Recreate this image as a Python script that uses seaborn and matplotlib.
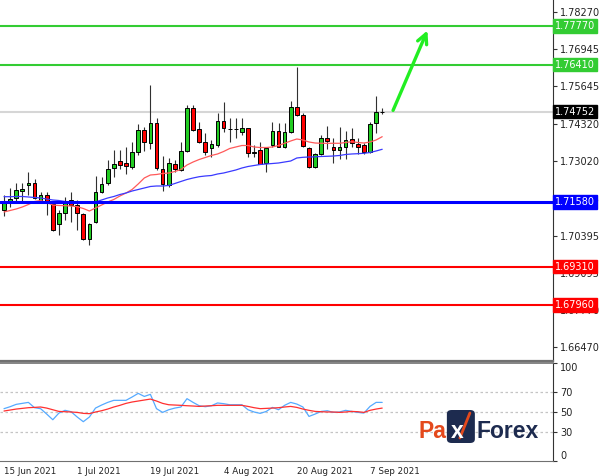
import numpy as np
import pandas as pd
import matplotlib
matplotlib.use("Agg")
import matplotlib.pyplot as plt
import seaborn as sns
from matplotlib.patches import FancyBboxPatch
from matplotlib.lines import Line2D

# daily candles (15 Jun - 9 Sep 2021)
opens = [1.71297, 1.71614, 1.71730, 1.71965, 1.72166, 1.72236, 1.71614, 1.71825, 1.71498, 1.70795,
         1.71202, 1.71649, 1.71473, 1.71157, 1.70267, 1.70886, 1.71920, 1.72257, 1.72785, 1.73020,
         1.72939, 1.72799, 1.73337, 1.74110, 1.73643, 1.74346, 1.72739, 1.72176, 1.72915, 1.72704,
         1.73372, 1.74894, 1.74146, 1.73699, 1.73467, 1.73583, 1.74437, 1.74135, 1.74135, 1.74051,
         1.74170, 1.73291, 1.73407, 1.72939, 1.73583, 1.74086, 1.73523, 1.74051, 1.74909, 1.74638,
         1.73467, 1.72820, 1.73256, 1.73818, 1.73502, 1.73407, 1.73523, 1.73794, 1.73618, 1.73583,
         1.73326, 1.74367, 1.74743]
highs = [1.71825, 1.72060, 1.72257, 1.72257, 1.72623, 1.72377, 1.71941, 1.71941, 1.71533, 1.71297,
         1.71765, 1.71941, 1.71649, 1.71202, 1.70830, 1.72493, 1.72468, 1.73056, 1.73407, 1.73407,
         1.73502, 1.73699, 1.74311, 1.74205, 1.75693, 1.74522, 1.73207, 1.73115, 1.73056, 1.73699,
         1.74989, 1.74989, 1.74381, 1.73994, 1.73759, 1.74719, 1.75084, 1.74522, 1.74522, 1.74522,
         1.74191, 1.73583, 1.73699, 1.73502, 1.74381, 1.74346, 1.74346, 1.75141, 1.76315, 1.74698,
         1.73523, 1.73312, 1.73935, 1.74251, 1.73818, 1.74205, 1.74086, 1.74170, 1.73818, 1.73643,
         1.74402, 1.75306, 1.74873]
lows = [1.71086, 1.71413, 1.71589, 1.71533, 1.71825, 1.71674, 1.71533, 1.71122, 1.70570, 1.70418,
        1.70946, 1.70886, 1.70594, 1.70243, 1.70067, 1.70830, 1.71885, 1.72176, 1.72447, 1.72750,
        1.72563, 1.72750, 1.73242, 1.73361, 1.73442, 1.72704, 1.71976, 1.72117, 1.72644, 1.72679,
        1.73347, 1.74075, 1.73643, 1.73231, 1.73172, 1.73523, 1.74051, 1.73699, 1.73818, 1.73935,
        1.73172, 1.73172, 1.72904, 1.72644, 1.73523, 1.73502, 1.73467, 1.73994, 1.74603, 1.73523,
        1.72764, 1.72764, 1.73231, 1.73432, 1.72939, 1.73080, 1.73080, 1.73502, 1.73267, 1.73267,
        1.73291, 1.73994, 1.74673]
closes = [1.71589, 1.71674, 1.72001, 1.72036, 1.72236, 1.71709, 1.71825, 1.71533, 1.70594, 1.71181,
          1.71589, 1.71473, 1.71181, 1.70267, 1.70795, 1.71941, 1.72201, 1.72739, 1.72904, 1.72880,
          1.72855, 1.73337, 1.74110, 1.73678, 1.74346, 1.72764, 1.72201, 1.72939, 1.72739, 1.73372,
          1.74894, 1.74110, 1.73699, 1.73347, 1.73608, 1.74437, 1.74170, 1.74135, 1.74135, 1.74170,
          1.73312, 1.73347, 1.72915, 1.73488, 1.74086, 1.73523, 1.74051, 1.74930, 1.74638, 1.73558,
          1.72820, 1.73267, 1.73818, 1.73724, 1.73407, 1.73523, 1.73759, 1.73643, 1.73502, 1.73326,
          1.74311, 1.74754, 1.74752]

# moving averages (red = fast, blue = slow)
ma_fast = [1.71227, 1.71280, 1.71333, 1.71403, 1.71491, 1.71596, 1.71631, 1.71561, 1.71473, 1.71456,
           1.71449, 1.71438, 1.71413, 1.71350, 1.71262, 1.71368, 1.71473, 1.71579, 1.71667, 1.71790,
           1.71895, 1.72018, 1.72212, 1.72423, 1.72528, 1.72546, 1.72581, 1.72598, 1.72651, 1.72721,
           1.72880, 1.72985, 1.73073, 1.73143, 1.73214, 1.73267, 1.73354, 1.73460, 1.73513, 1.73565,
           1.73565, 1.73513, 1.73495, 1.73495, 1.73513, 1.73565, 1.73643, 1.73724, 1.73794, 1.73759,
           1.73688, 1.73653, 1.73643, 1.73643, 1.73643, 1.73643, 1.73671, 1.73699, 1.73671, 1.73653,
           1.73688, 1.73759, 1.73875]
ma_slow = [1.71765, 1.71765, 1.71772, 1.71772, 1.71755, 1.71737, 1.71719, 1.71684, 1.71649, 1.71631,
           1.71596, 1.71579, 1.71561, 1.71561, 1.71544, 1.71579, 1.71649, 1.71719, 1.71772, 1.71842,
           1.71895, 1.71965, 1.72018, 1.72071, 1.72124, 1.72141, 1.72141, 1.72159, 1.72229, 1.72300,
           1.72370, 1.72423, 1.72468, 1.72493, 1.72510, 1.72563, 1.72598, 1.72651, 1.72704, 1.72774,
           1.72827, 1.72862, 1.72897, 1.72915, 1.72932, 1.72950, 1.72985, 1.73020, 1.73126, 1.73150,
           1.73161, 1.73168, 1.73179, 1.73186, 1.73196, 1.73214, 1.73249, 1.73267, 1.73277, 1.73291,
           1.73319, 1.73372, 1.73432]

# oscillator panel
osc_main = [53.4, 55.4, 57.8, 58.8, 59.8, 54.4, 53.4, 47.9, 42.1, 48.9,
            51.7, 50.3, 44.9, 40.1, 44.9, 54.0, 57.1, 59.8, 61.9, 61.9,
            61.9, 65.3, 69.0, 65.9, 68.0, 53.4, 49.6, 52.3, 54.0, 55.1,
            63.6, 59.8, 56.4, 55.4, 56.4, 59.2, 58.5, 57.4, 57.4, 57.4,
            52.3, 50.0, 48.6, 50.6, 54.7, 52.3, 56.8, 59.8, 58.1, 55.1,
            45.5, 47.9, 50.6, 51.3, 49.6, 50.0, 51.7, 50.6, 49.6, 48.9,
            55.7, 59.8, 59.8]
osc_signal = [51.0, 52.0, 53.0, 53.7, 54.4, 54.7, 55.1, 54.0, 52.3, 50.6,
              50.3, 50.0, 49.6, 48.6, 48.3, 50.0, 51.3, 53.0, 55.1, 56.8,
              58.8, 60.2, 61.2, 62.2, 63.2, 61.2, 58.8, 57.4, 57.1, 56.8,
              56.4, 56.1, 55.7, 56.1, 56.4, 56.8, 56.8, 56.8, 56.8, 56.8,
              55.7, 54.4, 53.4, 53.7, 54.0, 54.4, 55.1, 55.7, 54.7, 53.0,
              51.7, 50.6, 50.3, 50.0, 50.0, 49.6, 50.0, 50.6, 50.3, 49.6,
              51.7, 53.0, 54.0]

green_levels = [1.77770, 1.76410]
blue_levels = [1.71580]
red_levels = [1.69310, 1.67960]
last_price = 1.74752

price_ticks = [1.78270, 1.76945, 1.75645, 1.74320, 1.73020, 1.71695, 1.70395, 1.69095, 1.67770, 1.66470]
osc_ticks = [0, 30, 50, 70, 100]
date_labels = ["15 Jun 2021", "1 Jul 2021", "19 Jul 2021", "4 Aug 2021", "20 Aug 2021", "7 Sep 2021"]

sns.set_style("white")
plt.rcParams["font.family"] = ["DejaVu Sans"]

dates = pd.bdate_range("2021-06-15", periods=len(closes))
idx = np.arange(len(closes))
date_str = [f"{d.day} {d.strftime('%b %Y')}" for d in dates]

W, H = 602, 476
fig = plt.figure(figsize=(W / 100, H / 100), dpi=100)
ax = fig.add_axes([0, 1 - 361 / H, 553 / W, 361 / H])
ax2 = fig.add_axes([0, 1 - 461 / H, 553 / W, 98 / H])

xlim = (-0.656, 90.0)

# candles
o = np.array(opens); c = np.array(closes)
up = c >= o
ax.vlines(idx, lows, highs, color="#303030", lw=0.8, zorder=2)
body_lo = np.minimum(o, c)
body_h = np.maximum(np.abs(c - o), 0.00002)
ax.bar(idx[up], body_h[up], bottom=body_lo[up], width=0.62, color="#22cc22",
       edgecolor="black", lw=0.7, zorder=3)
ax.bar(idx[~up], body_h[~up], bottom=body_lo[~up], width=0.62, color="#ff0000",
       edgecolor="black", lw=0.7, zorder=3)

sns.lineplot(x=idx, y=ma_fast, ax=ax, color="#ff5a5a", lw=0.9, zorder=4)
sns.lineplot(x=idx, y=ma_slow, ax=ax, color="#3a3aff", lw=0.9, zorder=4)

# horizontal levels
ax.axhline(last_price, color="#d6d6d6", lw=1.5, zorder=1)
for lv in green_levels:
    ax.axhline(lv, color="#33cc33", lw=1.5, zorder=5)
for lv in blue_levels:
    ax.axhline(lv, color="#0000ff", lw=2.2, zorder=5)
for lv in red_levels:
    ax.axhline(lv, color="#ff0000", lw=1.5, zorder=5)

ax.annotate("", xy=(69.6, 1.7770), xytext=(63.6, 1.7471),
            arrowprops=dict(arrowstyle="->,head_length=0.7,head_width=0.35",
                            color="#22ee22", lw=2.4), zorder=6)

ax.set_xlim(*xlim)
ax.set_ylim(1.65988, 1.78681)
ax.yaxis.tick_right()
ax.set_yticks(price_ticks)
ax.set_yticklabels([f"{v:.5f}" for v in price_ticks])
ax.set_xticks([])
ax.tick_params(axis="y", direction="out", length=3, width=0.8, color="#333333",
               labelsize=7, pad=2, labelcolor="#222222")
for s in ["top", "left"]:
    ax.spines[s].set_visible(False)
ax.spines["right"].set_color("#333333")
ax.spines["right"].set_linewidth(0.8)
ax.spines["bottom"].set_color("#707070")
ax.spines["bottom"].set_linewidth(1.6)


def price_tag(level, fc):
    ax.text(1.004, level, f"{level:.5f}", transform=ax.get_yaxis_transform(),
            ha="left", va="center", fontsize=7, color="white", clip_on=False, zorder=10,
            bbox=dict(boxstyle="square,pad=0.18", fc=fc, ec=fc))


for lv in green_levels:
    price_tag(lv, "#33cc33")
for lv in blue_levels:
    price_tag(lv, "#0000ff")
for lv in red_levels:
    price_tag(lv, "#ff0000")
price_tag(last_price, "#000000")

# oscillator
for lv in [30, 50, 70]:
    ax2.axhline(lv, color="#c4c4c4", lw=0.9, ls=(0, (2, 2)), zorder=1)
sns.lineplot(x=idx, y=osc_main, ax=ax2, color="#55aaff", lw=0.9, zorder=3)
sns.lineplot(x=idx, y=osc_signal, ax=ax2, color="#ff3030", lw=0.9, zorder=3)
ax2.set_xlim(*xlim)
ax2.set_ylim(0, 100)
ax2.yaxis.tick_right()
ax2.set_yticks(osc_ticks)
ax2.set_yticklabels([str(v) for v in osc_ticks])
ax2.tick_params(axis="y", direction="out", length=3, width=0.8, color="#333333",
                labelsize=7, pad=2, labelcolor="#222222")
for lbl in ax2.get_yticklabels():
    if lbl.get_text() == "100":
        lbl.set_va("top")
    elif lbl.get_text() == "0":
        lbl.set_va("bottom")
tick_pos = [date_str.index(d) for d in date_labels]
ax2.set_xticks(tick_pos)
ax2.set_xticklabels(date_labels, ha="left")
ax2.tick_params(axis="x", direction="out", length=3, width=0.8, color="#333333",
                labelsize=6.3, pad=1, labelcolor="#222222")
ax2.spines["left"].set_visible(False)
ax2.spines["top"].set_color("#707070")
ax2.spines["top"].set_linewidth(1.2)
ax2.spines["bottom"].set_color("#707070")
ax2.spines["right"].set_color("#333333")
ax2.spines["right"].set_linewidth(0.8)

# PaxForex logo
renderer = fig.canvas.get_renderer()
base_y = 1 - 438 / H
logo_fs = 16.5
t1 = fig.text(418 / W, base_y, "Pa", color="#e4491c", fontsize=logo_fs, fontweight="bold",
              family="Liberation Sans", va="baseline")
bb = t1.get_window_extent(renderer)
bx0 = bb.x1 + 1
fig.patches.append(FancyBboxPatch((bx0 / W, 1 - 443 / H), 28 / W, 33 / H,
                                  boxstyle="round,pad=0,rounding_size=0.008",
                                  transform=fig.transFigure, fc="#1d2b4f", ec="none"))
fig.text((bx0 + 4) / W, base_y, "x", color="white", fontsize=logo_fs, fontweight="bold",
         family="Liberation Sans", va="baseline")
fig.lines.append(Line2D([(bx0 + 13) / W, (bx0 + 23) / W], [1 - 438 / H, 1 - 413 / H],
                        transform=fig.transFigure, color="#e4491c", lw=2.0))
fig.text((bx0 + 30) / W, base_y, "Forex", color="#1d2b4f", fontsize=logo_fs, fontweight="bold",
         family="Liberation Sans", va="baseline")

fig.savefig("out.png", dpi=100)
